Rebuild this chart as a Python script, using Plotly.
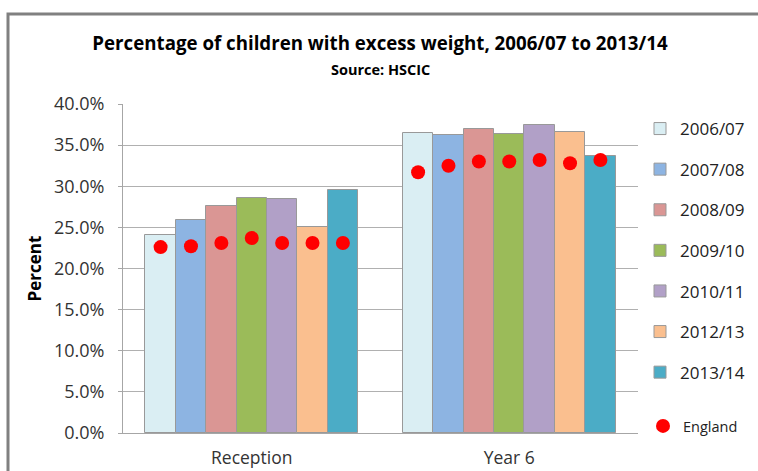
import plotly.graph_objects as go

categories = ["Reception", "Year 6"]
years = ["2006/07", "2007/08", "2008/09", "2009/10", "2010/11", "2012/13", "2013/14"]
reception = [24.1, 25.9, 27.6, 28.6, 28.4, 25.1, 29.5]
year6 = [36.5, 36.2, 37.0, 36.3, 37.5, 36.6, 33.7]
england_reception = [22.6, 22.7, 23.1, 23.7, 23.1, 23.1, 23.1]
england_year6 = [31.7, 32.5, 33.0, 33.0, 33.2, 32.8, 33.2]
colors = ["#DAEEF3", "#8DB4E2", "#DA9694", "#9BBB59", "#B1A0C7", "#FABF8F", "#4BACC6"]

W, H = 758, 471
L, R, T, B = 123, 120, 104, 38
bar_w = 0.118
n = len(years)

def offs(j):
    return (j - (n - 1) / 2) * bar_w

fig = go.Figure()
for j, y in enumerate(years):
    fig.add_trace(go.Bar(
        x=[i + offs(j) for i in range(len(categories))],
        y=[reception[j] / 100, year6[j] / 100],
        width=bar_w,
        name=y,
        marker=dict(color=colors[j], line=dict(color="#999999", width=1)),
        legendgroup=y,
    ))

ex, ey = [], []
for i, vals in enumerate([england_reception, england_year6]):
    for j, v in enumerate(vals):
        ex.append(i + offs(j))
        ey.append(v / 100)
fig.add_trace(go.Scatter(
    x=ex, y=ey, mode="markers", name="England",
    marker=dict(color="#FF0000", size=14),
    legend="legend2",
))

pw = W - L - R
ph = H - T - B
def px(x):
    return (x - L) / pw
def py(y):
    return (H - B - y) / ph

fig.update_layout(
    width=W, height=H,
    margin=dict(l=L, r=R, t=T, b=B, autoexpand=False),
    paper_bgcolor="white", plot_bgcolor="white",
    font=dict(family="Open Sans", color="#333333"),
    bargap=0,
    showlegend=True,
    title=dict(
        text="<b>Percentage of children with excess weight, 2006/07 to 2013/14</b>",
        x=px(380), xanchor="center", xref="paper", y=1 - 43 / H, yanchor="middle",
        font=dict(size=18.7, color="black", family="Open Sans"),
    ),
    annotations=[dict(
        text="<b>Source: HSCIC</b>", xref="paper", yref="paper",
        x=px(380), y=py(69.5), xanchor="center", yanchor="middle", showarrow=False,
        font=dict(size=14.5, color="black", family="Open Sans"),
    )],
    xaxis=dict(
        range=[-0.5, 1.5], tickvals=[0, 1], ticktext=categories,
        showgrid=False, zeroline=False, showline=True, linecolor="#a6a6a6",
        linewidth=1, ticks="", tickfont=dict(size=17.5, color="#333333"),
        ticklabelstandoff=9,
    ),
    yaxis=dict(
        range=[0, 0.4], dtick=0.05, tickformat=".1%",
        showgrid=True, gridcolor="#b0b0b0", gridwidth=1,
        zeroline=False, showline=True, linecolor="#a6a6a6", linewidth=1,
        ticks="outside", ticklen=4, tickcolor="#a6a6a6",
        tickfont=dict(size=18, color="#333333"), ticklabelstandoff=10,
        title=dict(text="<b>Percent</b>", font=dict(size=17, color="black"), standoff=7),
    ),
    legend=dict(
        x=px(640), y=py(111), xanchor="left", yanchor="top",
        font=dict(size=17, color="#222222"),
        traceorder="grouped", tracegroupgap=15.5, itemwidth=30,
        bgcolor="rgba(0,0,0,0)",
    ),
    legend2=dict(
        x=px(643), y=py(426), xanchor="left", yanchor="middle",
        font=dict(size=14.5, color="#222222"), itemwidth=30,
        bgcolor="rgba(0,0,0,0)",
    ),
    shapes=[dict(
        type="rect", xref="paper", yref="paper",
        x0=px(8), x1=px(W + 20), y0=py(H + 20), y1=py(14),
        line=dict(color="#808080", width=3), fillcolor="rgba(0,0,0,0)", layer="below",
    )],
)

fig.write_html("out.html", config={"displayModeBar": False},
               post_script="document.body.style.margin='0';")
